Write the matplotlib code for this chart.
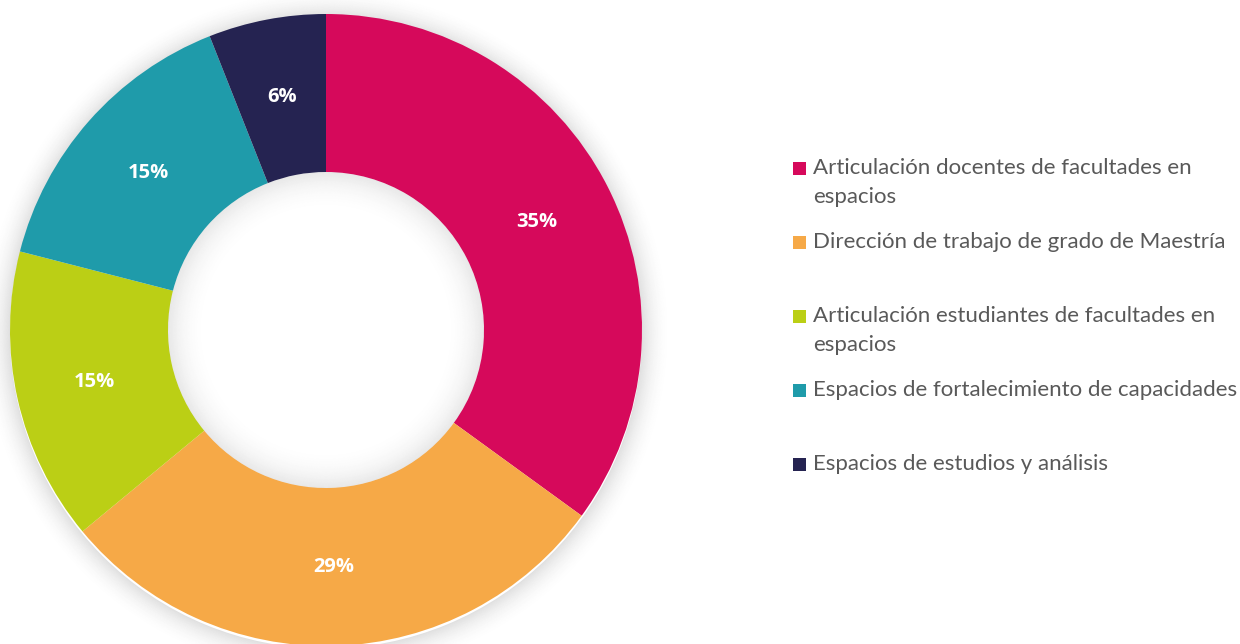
import matplotlib
matplotlib.use("Agg")
import matplotlib.pyplot as plt
from matplotlib.patches import Wedge, Rectangle
import numpy as np

labels = [
    "Articulación docentes de facultades en\nespacios",
    "Dirección de trabajo de grado de Maestría",
    "Articulación estudiantes de facultades en\nespacios",
    "Espacios de fortalecimiento de capacidades",
    "Espacios de estudios y análisis",
]
values = [35, 29, 15, 15, 6]
pct_labels = ["35%", "29%", "15%", "15%", "6%"]
colors = ["#D6095B", "#F6A947", "#BBCF15", "#1F9BAA", "#252351"]

W, H = 1240, 644
fig = plt.figure(figsize=(W / 100, H / 100), dpi=100)
fig.patch.set_facecolor("white")

# pie axes: center (326, 330) px from top, radius 316 px
cx, cy, R = 326, 330, 316
ax = fig.add_axes([(cx - R) / W, (H - cy - R) / H, 2 * R / W, 2 * R / H])

# outer soft shadow
N = 26
for k in range(N):
    r0 = 1.0 + k * 0.0035
    a = 0.12 * (1 - k / N) ** 2
    ax.add_patch(Wedge((0.0, -0.008), r0 + 0.0035, 0, 360, width=0.0035,
                       facecolor="black", alpha=a, edgecolor="none", zorder=0,
                       clip_on=False))

wedges, texts = ax.pie(values, colors=colors, startangle=90, counterclock=False,
                       radius=1.0, wedgeprops=dict(width=0.5, edgecolor="none"),
                       labels=pct_labels, labeldistance=0.75,
                       textprops=dict(color="white", fontsize=14.5, fontweight="bold",
                                      family="Open Sans"))
for w in wedges:
    w.set_zorder(2)
for t in texts:
    t.set_ha("center")
    t.set_va("center")
    t.set_zorder(3)

# inner shadow in the hole
N2 = 30
for k in range(N2):
    r1 = 0.5 - k * 0.004
    a = 0.09 * (1 - k / N2) ** 2
    ax.add_patch(Wedge((0, 0), r1, 0, 360, width=0.004, facecolor="black",
                       alpha=a, edgecolor="none", zorder=2))

ax.set_xlim(-1, 1)
ax.set_ylim(-1, 1)
ax.set_aspect("equal")
ax.axis("off")

# legend
ys = [168, 242, 316, 390, 464]
sq = 13
for lab, col, y in zip(labels, colors, ys):
    fig.patches.append(Rectangle(((793) / W, (H - y - sq / 2) / H), sq / W, sq / H,
                                 transform=fig.transFigure, facecolor=col,
                                 edgecolor="none"))
    fig.text(813 / W, (H - y + 10) / H, lab, ha="left", va="top", color="#595959",
             fontsize=16, family="Lato", linespacing=1.55,
             transform=fig.transFigure)

fig.savefig("out.png", dpi=100, facecolor="white")
